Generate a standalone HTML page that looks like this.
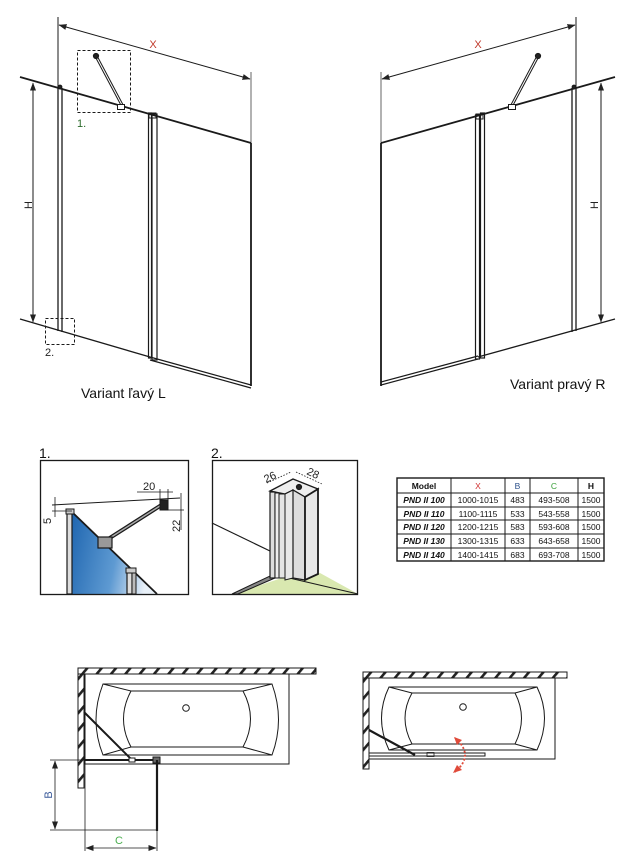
<!DOCTYPE html>
<html><head><meta charset="utf-8"><style>
html,body{margin:0;padding:0;background:#fff;}
svg{display:block;}
text{font-family:"Liberation Sans",sans-serif;}
</style></head><body>
<svg width="636" height="861" viewBox="0 0 636 861" xmlns="http://www.w3.org/2000/svg">
<defs>
<marker id="ar" markerWidth="8" markerHeight="6" refX="7.5" refY="3" orient="auto" markerUnits="userSpaceOnUse"><path d="M0,0 L8,3 L0,6 z" fill="#222"/></marker>
<marker id="al" markerWidth="8" markerHeight="6" refX="0.5" refY="3" orient="auto" markerUnits="userSpaceOnUse"><path d="M8,0 L0,3 L8,6 z" fill="#222"/></marker>
<pattern id="hatch" width="11" height="11" patternUnits="userSpaceOnUse" patternTransform="rotate(40)"><rect width="11" height="11" fill="#fff"/><rect x="0" y="0" width="2.6" height="11" fill="#222"/></pattern>
<linearGradient id="glass" x1="0" y1="0" x2="1" y2="0.2"><stop offset="0" stop-color="#1f66b0"/><stop offset="0.6" stop-color="#5e9ad2"/><stop offset="1" stop-color="#e8f0f8"/></linearGradient>
</defs>
<g fill="none" stroke="#1a1a1a" stroke-width="1.2">
<!-- LEFT VARIANT -->
<line x1="58" y1="17" x2="58" y2="87" stroke-width="1"/>
<line x1="251" y1="72" x2="251" y2="143" stroke-width="1" stroke="#666"/>
<line x1="59" y1="25" x2="250" y2="79" stroke-width="1" marker-start="url(#al)" marker-end="url(#ar)"/>
<line x1="20" y1="77" x2="251" y2="143" stroke-width="1.8"/>
<line x1="20" y1="319" x2="150" y2="357" stroke-width="1.3"/>
<line x1="150" y1="357" x2="251" y2="385" stroke-width="1.2"/>
<line x1="150" y1="360" x2="251" y2="388" stroke-width="1.2"/>
<line x1="58" y1="87" x2="58" y2="331" stroke-width="1.3"/>
<line x1="62" y1="88" x2="62" y2="332" stroke-width="1.3"/>
<circle cx="60" cy="87" r="1.8" fill="#222"/>
<rect x="148.5" y="113" width="3" height="245" stroke-width="1.2"/>
<rect x="152" y="114" width="5" height="246" stroke-width="1.2"/>
<rect x="149" y="113" width="7" height="5" stroke-width="1"/>
<line x1="251" y1="143" x2="251" y2="386" stroke-width="1.8"/>
<line x1="33" y1="83" x2="33" y2="322" stroke-width="1" marker-start="url(#al)" marker-end="url(#ar)"/>
<rect x="77.5" y="50.5" width="53" height="62" stroke-width="1" stroke-dasharray="3,2"/>
<line x1="96" y1="56" x2="122" y2="105" stroke-width="3"/>
<line x1="96" y1="56" x2="122" y2="105" stroke-width="1" stroke="#fff"/>
<circle cx="96" cy="56" r="2.5" fill="#222"/>
<rect x="117.5" y="104.5" width="7" height="5" fill="#fff" stroke-width="1"/>
<rect x="45.5" y="318.5" width="29" height="26" stroke-width="1" stroke-dasharray="3,2"/>
<!-- RIGHT VARIANT -->
<line x1="381" y1="72" x2="381" y2="143" stroke-width="1" stroke="#666"/>
<line x1="576" y1="17" x2="576" y2="87" stroke-width="1"/>
<line x1="382" y1="79" x2="575" y2="25" stroke-width="1" marker-start="url(#al)" marker-end="url(#ar)"/>
<line x1="381" y1="143" x2="615" y2="77" stroke-width="1.8"/>
<line x1="478" y1="357" x2="615" y2="319" stroke-width="1.3"/>
<line x1="381" y1="382" x2="478" y2="356" stroke-width="1.2"/>
<line x1="381" y1="385" x2="478" y2="359" stroke-width="1.2"/>
<line x1="381" y1="143" x2="381" y2="386" stroke-width="1.8"/>
<line x1="572" y1="88" x2="572" y2="332" stroke-width="1.3"/>
<line x1="576" y1="87" x2="576" y2="331" stroke-width="1.3"/>
<circle cx="574" cy="87" r="1.8" fill="#222"/>
<rect x="475.5" y="115" width="4" height="244" stroke-width="1.2"/>
<rect x="480.5" y="113" width="4" height="245" stroke-width="1.2"/>
<rect x="476" y="114" width="7" height="5" stroke-width="1"/>
<line x1="538" y1="56" x2="512" y2="105" stroke-width="3"/>
<line x1="538" y1="56" x2="512" y2="105" stroke-width="1" stroke="#fff"/>
<circle cx="538" cy="56" r="2.5" fill="#222"/>
<rect x="508.5" y="104.5" width="7" height="5" fill="#fff" stroke-width="1"/>
<line x1="601" y1="83" x2="601" y2="322" stroke-width="1" marker-start="url(#al)" marker-end="url(#ar)"/>

<!-- DETAIL 1 -->
<polygon points="72,512 157,594 72,594" fill="url(#glass)" stroke="none"/>
<line x1="72" y1="512" x2="157" y2="594" stroke-width="1.8"/>
<rect x="67" y="511" width="5" height="83" fill="#ddd" stroke-width="1.2"/>
<rect x="66" y="509" width="8" height="5" fill="#ccc" stroke-width="1"/>
<rect x="127" y="570" width="5" height="24" fill="#ddd" stroke-width="1.2"/>
<rect x="132" y="572" width="4" height="22" fill="#bbb" stroke-width="1"/>
<rect x="126" y="568" width="10" height="5" fill="#ccc" stroke-width="1"/>
<line x1="105" y1="541" x2="163" y2="504" stroke-width="4"/>
<line x1="105" y1="541" x2="163" y2="504" stroke-width="1.5" stroke="#aaa"/>
<rect x="98" y="537" width="14" height="11" fill="#999" stroke-width="1.2"/>
<rect x="160" y="500" width="8" height="10" fill="#222" stroke-width="1"/>
<line x1="52" y1="505" x2="180" y2="498" stroke-width="1"/>
<line x1="52" y1="511" x2="72" y2="511" stroke-width="0.8"/>
<line x1="55" y1="497" x2="55" y2="517" stroke-width="0.8"/>
<line x1="137" y1="492" x2="173" y2="492" stroke-width="0.8"/>
<line x1="160" y1="489" x2="160" y2="500" stroke-width="0.8"/>
<line x1="168" y1="489" x2="168" y2="500" stroke-width="0.8"/>
<line x1="168" y1="510" x2="184" y2="510" stroke-width="0.8"/>
<line x1="181" y1="493" x2="181" y2="530" stroke-width="0.8"/>
<rect x="40.5" y="460.5" width="148" height="134" stroke-width="1.3"/>

<!-- DETAIL 2 -->
<line x1="212" y1="523" x2="270" y2="551" stroke-width="1.2"/>
<polygon points="233,594 285,577 320,573 358,594" fill="#d9e8b0" stroke="none"/>
<line x1="285" y1="577" x2="358" y2="594" stroke-width="1"/>
<polygon points="232,594 270,576 275,578 238,594" fill="#888" stroke-width="1"/>
<polygon points="270,491 293,479 318,489 305,497 293,490 285,494" fill="#eee" stroke-width="1.3"/>
<circle cx="299" cy="487" r="2.5" fill="#222"/>
<rect x="270" y="492" width="5" height="86" fill="#ddd" stroke-width="1.2"/>
<rect x="275" y="493" width="4" height="85" fill="#eee" stroke-width="1"/>
<rect x="279" y="494" width="6" height="84" fill="#e4e4e4" stroke-width="1"/>
<polygon points="285,494 293,490 293,578 285,580" fill="#e8e8e8" stroke-width="1"/>
<polygon points="293,490 305,497 305,580 293,578" fill="#ddd" stroke-width="1.2"/>
<polygon points="305,497 318,489 318,574 305,580" fill="#e8e8e8" stroke-width="1.8"/>
<line x1="267" y1="483" x2="291" y2="472" stroke-width="0.8" stroke-dasharray="1.5,1.5"/>
<line x1="296" y1="472" x2="322" y2="484" stroke-width="0.8" stroke-dasharray="1.5,1.5"/>
<rect x="212.5" y="460.5" width="145" height="134" stroke-width="1.3"/>

<!-- TABLE -->
<rect x="397" y="478" width="207" height="83" stroke-width="1.4"/>
<line x1="451" y1="478" x2="451" y2="561" stroke-width="1"/>
<line x1="505" y1="478" x2="505" y2="561" stroke-width="1"/>
<line x1="530" y1="478" x2="530" y2="561" stroke-width="1"/>
<line x1="578" y1="478" x2="578" y2="561" stroke-width="1"/>
<line x1="397" y1="493" x2="604" y2="493" stroke-width="1"/>
<line x1="397" y1="507" x2="604" y2="507" stroke-width="1"/>
<line x1="397" y1="520" x2="604" y2="520" stroke-width="1"/>
<line x1="397" y1="534" x2="604" y2="534" stroke-width="1"/>
<line x1="397" y1="548" x2="604" y2="548" stroke-width="1"/>

<!-- LEFT PLAN -->
<rect x="78" y="668" width="238" height="6" fill="url(#hatch)" stroke-width="1"/>
<rect x="78" y="674" width="6" height="114" fill="url(#hatch)" stroke-width="1"/>
<rect x="85" y="674" width="204" height="90" stroke-width="1"/>
<path d="M103,684 L272,684 Q285,720 272,755 L103,755 Q89,720 103,684 Z" stroke-width="1"/>
<path d="M131,691 L243,691 Q258,719 243,747 L131,747 Q116,719 131,691 Z" stroke-width="1"/>
<line x1="103" y1="684" x2="131" y2="691" stroke-width="1"/>
<line x1="272" y1="684" x2="243" y2="691" stroke-width="1"/>
<line x1="103" y1="755" x2="131" y2="747" stroke-width="1"/>
<line x1="272" y1="755" x2="243" y2="747" stroke-width="1"/>
<circle cx="186" cy="708" r="3.3" stroke-width="1"/>
<line x1="84" y1="712" x2="131" y2="759" stroke-width="2"/>
<line x1="84" y1="760" x2="157" y2="760" stroke-width="2"/>
<rect x="129" y="758" width="6" height="4" fill="#fff" stroke-width="1"/>
<rect x="153" y="757" width="7" height="6" fill="#666" stroke-width="1"/>
<line x1="157" y1="760" x2="157" y2="831" stroke-width="2.2"/>
<line x1="50" y1="760" x2="84" y2="760" stroke-width="0.8"/>
<line x1="50" y1="830" x2="157" y2="830" stroke-width="0.8"/>
<line x1="55" y1="761" x2="55" y2="829" stroke-width="0.8" marker-start="url(#al)" marker-end="url(#ar)"/>
<line x1="85" y1="764" x2="85" y2="851" stroke-width="0.8"/>
<line x1="157" y1="831" x2="157" y2="851" stroke-width="0.8"/>
<line x1="86" y1="848" x2="156" y2="848" stroke-width="0.8" marker-start="url(#al)" marker-end="url(#ar)"/>

<!-- RIGHT PLAN -->
<rect x="363" y="672" width="204" height="6" fill="url(#hatch)" stroke-width="1"/>
<rect x="363" y="678" width="6" height="91" fill="url(#hatch)" stroke-width="1"/>
<rect x="369" y="678" width="186" height="81" stroke-width="1"/>
<path d="M389,687 L537,687 Q552,718 537,750 L389,750 Q374,718 389,687 Z" stroke-width="1"/>
<path d="M412,693 L515,693 Q528,718 515,744 L412,744 Q398,718 412,693 Z" stroke-width="1"/>
<line x1="389" y1="687" x2="412" y2="693" stroke-width="1"/>
<line x1="537" y1="687" x2="515" y2="693" stroke-width="1"/>
<line x1="389" y1="750" x2="412" y2="744" stroke-width="1"/>
<line x1="537" y1="750" x2="515" y2="744" stroke-width="1"/>
<circle cx="463" cy="707" r="3.3" stroke-width="1"/>
<line x1="369" y1="730" x2="415" y2="755" stroke-width="2.2"/>
<rect x="369" y="753" width="116" height="3" stroke-width="1"/>
<rect x="427" y="752.5" width="7" height="4" stroke-width="0.8"/>
<path d="M455,738 Q475,755 455,772" stroke="#e04a3a" stroke-width="1.8" stroke-dasharray="2,2"/>
<path d="M454,737 l3,8 l5,-5 z" fill="#e04a3a" stroke="none"/>
<path d="M453,773 l4,-8 l5,5 z" fill="#e04a3a" stroke="none"/>
</g>

<g font-size="11" fill="#c0392b">
<text x="153" y="48" text-anchor="middle">X</text>
<text x="478" y="48" text-anchor="middle">X</text>
</g>
<g font-size="11" fill="#222">
<text transform="translate(32,205) rotate(-90)" text-anchor="middle">H</text>
<text transform="translate(598,205) rotate(-90)" text-anchor="middle">H</text>
<text x="77" y="127" fill="#2a6a2a">1.</text>
<text x="45" y="356">2.</text>
</g>
<text x="81" y="398" font-size="14" fill="#111">Variant ľavý L</text>
<text x="510" y="389" font-size="14" fill="#111">Variant pravý R</text>
<text x="39" y="458" font-size="14" fill="#111">1.</text>
<text x="211" y="458" font-size="14" fill="#111">2.</text>
<g font-size="11" fill="#222">
<text x="143" y="490">20</text>
<text transform="translate(51,524) rotate(-90)">5</text>
<text transform="translate(180,532) rotate(-90)">22</text>
<text transform="translate(266,483) rotate(-25)">26</text>
<text transform="translate(306,474) rotate(25)">28</text>
</g>
<g font-size="8.5" fill="#111" text-anchor="middle">
<text x="424" y="489" font-weight="bold">Model</text>
<text x="478" y="489" fill="#d03030">X</text>
<text x="517.5" y="489" fill="#2a4f8a">B</text>
<text x="554" y="489" fill="#3aa03a">C</text>
<text x="591" y="489" font-weight="bold">H</text>
<g font-weight="bold" font-style="italic"><text x="424" y="503">PND II 100</text><text x="424" y="517">PND II 110</text><text x="424" y="530">PND II 120</text><text x="424" y="544">PND II 130</text><text x="424" y="558">PND II 140</text></g>
<text x="478" y="503">1000-1015</text><text x="478" y="517">1100-1115</text><text x="478" y="530">1200-1215</text><text x="478" y="544">1300-1315</text><text x="478" y="558">1400-1415</text>
<text x="517.5" y="503">483</text><text x="517.5" y="517">533</text><text x="517.5" y="530">583</text><text x="517.5" y="544">633</text><text x="517.5" y="558">683</text>
<text x="554" y="503">493-508</text><text x="554" y="517">543-558</text><text x="554" y="530">593-608</text><text x="554" y="544">643-658</text><text x="554" y="558">693-708</text>
<text x="591" y="503">1500</text><text x="591" y="517">1500</text><text x="591" y="530">1500</text><text x="591" y="544">1500</text><text x="591" y="558">1500</text>
</g>
<text transform="translate(52,795) rotate(-90)" font-size="11" fill="#3a5a9a" text-anchor="middle">B</text>
<text x="119" y="844" font-size="11" fill="#4caf50" text-anchor="middle">C</text>
</svg>
</body></html>
